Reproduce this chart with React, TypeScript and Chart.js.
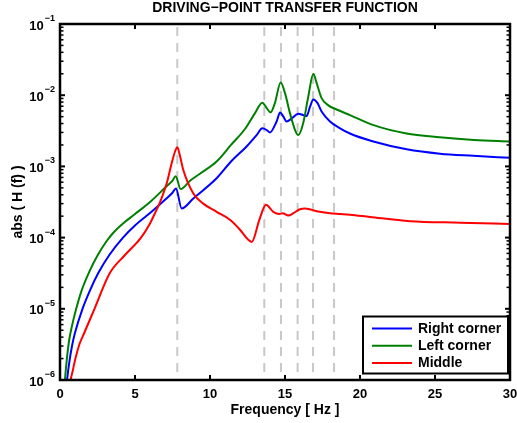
import { useEffect, useRef } from 'react';
import { Chart, registerables } from 'chart.js';

Chart.register(...registerables);

// ---------- data ----------
const rightFreq = [0.43, 0.47, 0.6, 0.8, 1.0, 1.5, 2.0, 2.56, 3.3, 4.2, 5.0, 6.1, 7.0, 7.5, 7.73, 8.11, 8.89, 10.44, 11.4, 12.44, 13.11, 13.49, 13.78, 14.0, 14.44, 14.67, 14.89, 15.11, 15.44, 15.89, 16.22, 16.44, 16.67, 16.89, 17.16, 17.44, 18.0, 18.67, 19.33, 20.89, 23.11, 25.33, 27.55, 30];
const rightAbs = [8.3e-7, 1.0e-6, 1.66e-6, 3.0e-6, 4.6e-6, 1.0e-5, 1.82e-5, 3.2e-5, 5.75e-5, 1.0e-4, 1.48e-4, 2.3e-4, 3.4e-4, 4.27e-4, 4.9e-4, 2.57e-4, 3.55e-4, 6.8e-4, 1.17e-3, 1.9e-3, 2.75e-3, 3.43e-3, 3.24e-3, 3.0e-3, 4.27e-3, 5.7e-3, 5.0e-3, 4.27e-3, 4.7e-3, 5.5e-3, 5.25e-3, 5.1e-3, 6.9e-3, 8.7e-3, 7.8e-3, 5.9e-3, 4.27e-3, 3.43e-3, 2.9e-3, 2.24e-3, 1.74e-3, 1.51e-3, 1.41e-3, 1.32e-3];

const leftFreq = [0.3, 0.33, 0.45, 0.6, 0.8, 1.08, 1.44, 1.95, 2.5, 3.1, 3.6, 4.2, 5.0, 6.1, 7.0, 7.5, 7.71, 8.04, 8.67, 9.33, 10.44, 11.4, 12.33, 13.0, 13.49, 13.78, 14.04, 14.33, 14.71, 15.0, 15.33, 15.67, 15.89, 16.22, 16.55, 16.89, 17.11, 17.44, 17.89, 18.44, 19.33, 20.9, 23.1, 25.3, 27.6, 30];
const leftAbs = [8.3e-7, 1.0e-6, 1.9e-6, 3.5e-6, 5.75e-6, 1.0e-5, 1.8e-5, 3.3e-5, 5.6e-5, 8.9e-5, 1.2e-4, 1.58e-4, 2.14e-4, 3.3e-4, 5.0e-4, 6.3e-4, 7.3e-4, 4.8e-4, 6.3e-4, 7.9e-4, 1.17e-3, 2.0e-3, 3.35e-3, 5.6e-3, 7.85e-3, 6.6e-3, 5.75e-3, 7.8e-3, 1.51e-2, 1.07e-2, 5.6e-3, 3.24e-3, 2.75e-3, 4.1e-3, 9.5e-3, 2.0e-2, 1.48e-2, 9.1e-3, 7.2e-3, 6.3e-3, 5.25e-3, 3.8e-3, 2.9e-3, 2.57e-3, 2.35e-3, 2.24e-3];

const midFreq = [0.67, 0.71, 0.85, 1.0, 1.3, 1.6, 2.3, 3.33, 4.3, 5.4, 6.0, 6.33, 6.67, 7.11, 7.44, 7.67, 7.82, 8.0, 8.22, 8.89, 9.55, 10.44, 11.33, 12.0, 12.55, 12.78, 13.29, 13.73, 14.22, 14.62, 14.84, 15.22, 15.56, 16.0, 16.33, 16.78, 17.33, 18.0, 18.67, 19.33, 20.67, 23.33, 26.67, 30];
const midAbs = [8.6e-7, 1.0e-6, 1.35e-6, 1.9e-6, 3.2e-6, 4.5e-6, 1.0e-5, 3.2e-5, 5.6e-5, 1.0e-4, 1.58e-4, 2.2e-4, 3.16e-4, 5.75e-4, 1.1e-3, 1.62e-3, 1.86e-3, 1.4e-3, 8.9e-4, 4.17e-4, 3.0e-4, 2.3e-4, 1.78e-4, 1.29e-4, 9.3e-5, 8.7e-5, 1.78e-4, 2.9e-4, 2.3e-4, 2.14e-4, 2.2e-4, 2.04e-4, 2.2e-4, 2.5e-4, 2.57e-4, 2.45e-4, 2.3e-4, 2.2e-4, 2.15e-4, 2.1e-4, 1.95e-4, 1.7e-4, 1.62e-4, 1.55e-4];

// natural frequencies marked with dashed lines
const resonanceFreq = [7.82, 13.62, 14.73, 15.84, 16.87, 18.27];

const seriesNames = ['Right corner', 'Left corner', 'Middle'];
const seriesColors = ['#0000ff', '#008000', '#ff0000'];

const xTickValues = [0, 5, 10, 15, 20, 25, 30];
const yTickValues = [1e-6, 1e-5, 1e-4, 1e-3, 1e-2, 1e-1];
const yTickBase = '10';
const yTickExponents = ['−6', '−5', '−4', '−3', '−2', '−1'];
const yMinorMultipliers = [2, 3, 4, 5, 6, 7, 8, 9];

const titleText = 'DRIVING−POINT TRANSFER FUNCTION';
const xTitle = 'Frequency [ Hz ]';
const yTitle = 'abs ( H (f) )';

const FONT = "'Liberation Sans', Arial, Helvetica, sans-serif";

export default function App() {
  const ref = useRef<HTMLCanvasElement>(null);

  useEffect(() => {
    document.body.style.margin = '0';
    const toXY = (f: number[], v: number[]) => f.map((x, i) => ({ x, y: v[i] }));

    const axesPlugin = {
      id: 'matlabAxes',
      afterDatasetsDraw(chart: any) {
        const { ctx, chartArea: a, scales } = chart;
        const xs = scales.x;
        const ys = scales.y;
        ctx.save();
        ctx.strokeStyle = '#000';
        ctx.lineCap = 'butt';
        const seg = (x1: number, y1: number, x2: number, y2: number) => {
          ctx.beginPath();
          ctx.moveTo(x1, y1);
          ctx.lineTo(x2, y2);
          ctx.stroke();
        };
        // x ticks (inward, bottom and top)
        ctx.lineWidth = 2;
        for (const v of xTickValues) {
          const px = xs.getPixelForValue(v);
          seg(px, a.bottom, px, a.bottom - 5);
          seg(px, a.top, px, a.top + 5);
        }
        // y ticks major + minor
        for (const v of yTickValues) {
          const py = ys.getPixelForValue(v);
          ctx.lineWidth = 2;
          seg(a.left, py, a.left + 5, py);
          seg(a.right, py, a.right - 5, py);
          if (v < 1e-1) {
            ctx.lineWidth = 1.5;
            for (const m of yMinorMultipliers) {
              const pm = ys.getPixelForValue(v * m);
              seg(a.left, pm, a.left + 3.5, pm);
              seg(a.right, pm, a.right - 3.5, pm);
            }
          }
        }
        // box
        ctx.lineWidth = 2.5;
        ctx.strokeRect(a.left, a.top, a.right - a.left, a.bottom - a.top);

        // title centred over the plot area
        ctx.fillStyle = '#000';
        ctx.font = `bold 14px ${FONT}`;
        ctx.textAlign = 'center';
        ctx.textBaseline = 'middle';
        ctx.fillText(titleText, (a.left + a.right) / 2, 8.5);

        // y tick labels 10^n
        yTickValues.forEach((v, i) => {
          const py = ys.getPixelForValue(v);
          ctx.font = `bold 9px ${FONT}`;
          const ew = ctx.measureText(yTickExponents[i]).width;
          const expRight = 55;
          ctx.textAlign = 'right';
          ctx.textBaseline = 'alphabetic';
          ctx.fillText(yTickExponents[i], expRight, py - 3);
          ctx.font = `bold 13px ${FONT}`;
          ctx.fillText(yTickBase, expRight - ew - 1, py + 5.5);
        });

        // legend
        const lx = 363, ly = 316.5, lw = 145, lh = 57;
        ctx.fillStyle = '#fff';
        ctx.fillRect(lx, ly, lw, lh);
        ctx.lineWidth = 2;
        ctx.strokeStyle = '#000';
        ctx.strokeRect(lx, ly, lw, lh);
        ctx.font = `bold 14px ${FONT}`;
        ctx.textAlign = 'left';
        ctx.textBaseline = 'middle';
        seriesNames.forEach((name, i) => {
          const ry = 328.5 + i * 17.2;
          ctx.strokeStyle = seriesColors[i];
          ctx.lineWidth = 2;
          seg(372, ry, 412, ry);
          ctx.fillStyle = '#000';
          ctx.fillText(name, 418, ry + 0.5);
        });
        ctx.restore();
      },
    };

    const lineDs = (i: number, f: number[], v: number[], order: number) => ({
      label: seriesNames[i],
      data: toXY(f, v),
      borderColor: seriesColors[i],
      backgroundColor: seriesColors[i],
      borderWidth: 2,
      pointRadius: 0,
      cubicInterpolationMode: 'monotone' as const,
      fill: false,
      order,
      clip: 0,
    });

    const dashed = resonanceFreq.map((f) => ({
      label: 'mode',
      data: [
        { x: f, y: 1e-1 },
        { x: f, y: 1e-6 },
      ],
      borderColor: '#c8c8c8',
      borderWidth: 2,
      borderDash: [9, 7],
      borderDashOffset: -3,
      pointRadius: 0,
      fill: false,
      order: 10,
      clip: 0,
    }));

    const chart = new Chart(ref.current!, {
      type: 'line',
      data: {
        datasets: [
          ...dashed,
          lineDs(0, rightFreq, rightAbs, 2),
          lineDs(1, leftFreq, leftAbs, 1),
          lineDs(2, midFreq, midAbs, 0),
        ] as any,
      },
      options: {
        animation: false,
        responsive: true,
        maintainAspectRatio: false,
        events: [],
        layout: { padding: { left: 0, right: 7, top: 24, bottom: 0 } },
        plugins: {
          legend: { display: false },
          tooltip: { enabled: false },
          title: { display: false },
        },
        scales: {
          x: {
            type: 'linear',
            min: 0,
            max: 30,
            ticks: {
              stepSize: 5,
              color: '#000',
              font: { family: FONT, size: 13, weight: 'bold' },
              padding: 7,
              maxRotation: 0,
            },
            grid: { display: false, drawTicks: false },
            border: { display: false },
            title: {
              display: true,
              text: xTitle,
              color: '#000',
              font: { family: FONT, size: 14, weight: 'bold' },
              padding: { top: 0, bottom: 4.6 },
            },
            afterFit: (s: any) => {
              s.height = 43;
              s.paddingLeft = 0;
              s.paddingRight = 0;
            },
          },
          y: {
            type: 'logarithmic',
            min: 1e-6,
            max: 1e-1,
            ticks: { display: false },
            grid: { display: false, drawTicks: false },
            border: { display: false },
            title: {
              display: true,
              text: yTitle,
              color: '#000',
              font: { family: FONT, size: 14, weight: 'bold' },
              padding: { top: 9.6, bottom: 0 },
            },
            afterFit: (s: any) => {
              s.width = 60;
              s.paddingTop = 0;
              s.paddingBottom = 0;
            },
          },
        },
      } as any,
      plugins: [axesPlugin],
    });
    return () => chart.destroy();
  }, []);

  return (
    <div style={{ position: 'fixed', left: 0, top: 0, width: 517, height: 423, background: '#fff' }}>
      <canvas ref={ref} />
    </div>
  );
}
